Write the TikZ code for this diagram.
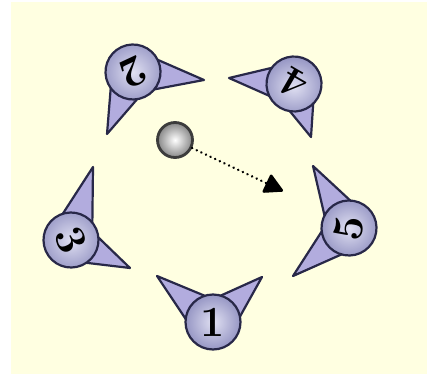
\documentclass[tikz,border=0pt]{standalone}
\usetikzlibrary{calc,arrows.meta}
\definecolor{bgyellow}{RGB}{255,255,225}
\definecolor{conefill}{RGB}{178,172,222}
\definecolor{edgeblue}{RGB}{40,40,72}
\definecolor{bodyin}{RGB}{224,224,242}
\definecolor{bodyout}{RGB}{150,150,196}
\definecolor{ballout}{RGB}{135,135,135}
\definecolor{balledge}{RGB}{60,60,60}
\begin{document}
\begin{tikzpicture}[x=1pt,y=-1pt,
  cone/.style={fill=conefill,draw=edgeblue,line width=2.2pt,line join=round},
  robot/.style={circle,minimum size=55pt,inner sep=0pt,draw=edgeblue,line width=2.2pt,
    inner color=bodyin,outer color=bodyout,font=\fontsize{43}{43}\selectfont\bfseries},
  ballst/.style={circle,minimum size=35pt,inner sep=0pt,draw=balledge,line width=2.8pt,
    inner color=white,outer color=ballout},
  motion/.style={line width=2.6pt,line cap=round,dash pattern=on 0.1pt off 5pt,
    -{Triangle[length=20pt,width=21pt,round]}}
]
\useasboundingbox (0,0) rectangle (427,374);
\fill[white] (0,0) rectangle (427,374);
\fill[bgyellow] (11,2) rectangle (427,374);
% robot centres
\coordinate (c1) at (213,322);
\coordinate (c2) at (133,72);
\coordinate (c3) at (71,240);
\coordinate (c4) at (294,84);
\coordinate (c5) at (349,228);
% cone tips
\coordinate (t1a) at (157,276);
\coordinate (t1b) at (262,277);
\coordinate (t2a) at (204,80);
\coordinate (t2b) at (107,134);
\coordinate (t3a) at (93,167);
\coordinate (t3b) at (130,268);
\coordinate (t4a) at (229,78);
\coordinate (t4b) at (311,137);
\coordinate (t5a) at (313,166);
\coordinate (t5b) at (293,276);
\foreach \c/\t in {c1/t1a,c1/t1b,c2/t2a,c2/t2b,c3/t3a,c3/t3b,c4/t4a,c4/t4b,c5/t5a,c5/t5b}
  \draw[cone] ($(\c)!22pt!90:(\t)$) -- (\t) -- ($(\c)!22pt!-90:(\t)$) -- cycle;
\node[robot] (r1) at (c1) {1};
\node[robot,rotate=205] (r2) at (c2) {2};
\node[robot,rotate=-66] (r3) at (c3) {3};
\node[robot,rotate=150] (r4) at (c4) {4};
\node[robot,rotate=80] (r5) at (c5) {5};
% ball and its motion
\node[ballst] (ball) at (175,140) {};
\coordinate (aim) at (283,191);
\draw[motion] (ball) -- (aim);
\end{tikzpicture}
\end{document}
